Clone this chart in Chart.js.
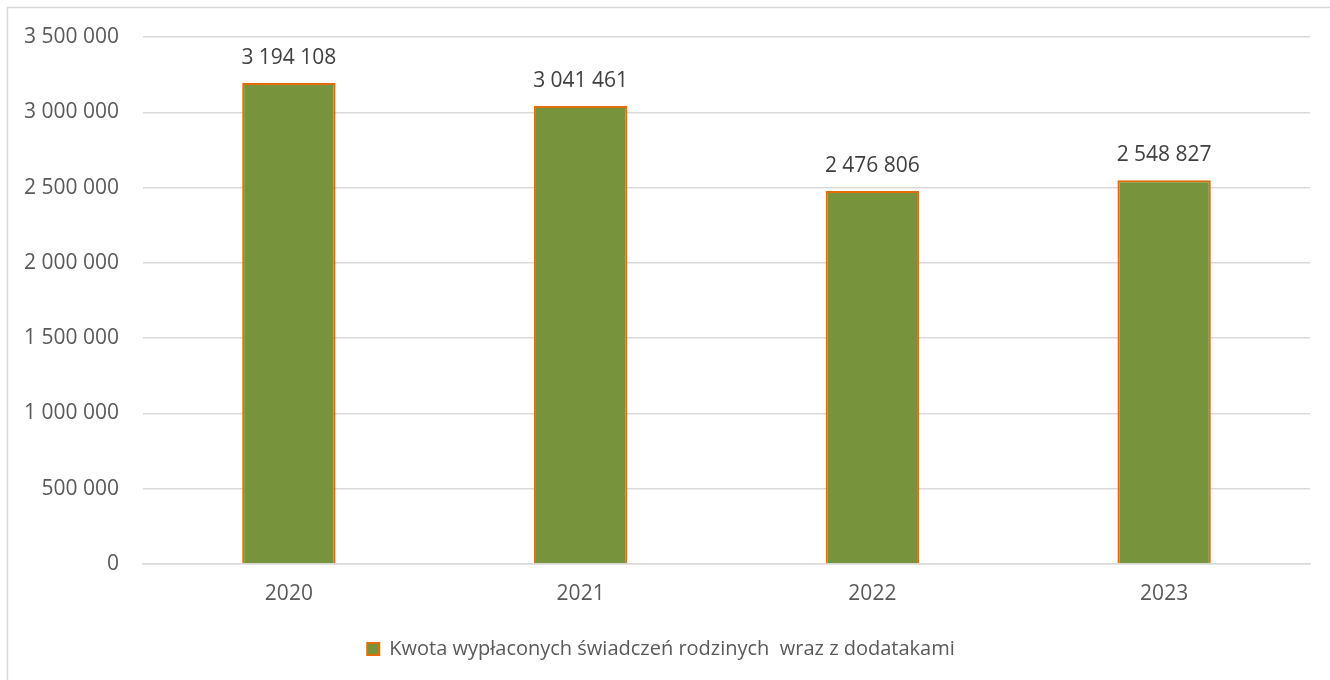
<!DOCTYPE html>
<html>
<head>
<meta charset="utf-8">
<script src="https://cdn.jsdelivr.net/npm/chart.js@4"></script>
<style>
html,body{margin:0;padding:0;background:#fff;}
#wrap{position:absolute;left:0;top:0;width:1330px;height:680px;}
</style>
</head>
<body>
<div id="wrap"><canvas id="c" width="1330" height="680"></canvas></div>
<script>
const categories = ['2020', '2021', '2022', '2023'];
const values = [3194108, 3041461, 2476806, 2548827];
const seriesLabel = 'Kwota wypłaconych świadczeń rodzinych  wraz z dodatakami';
const yTicks = [0, 500000, 1000000, 1500000, 2000000, 2500000, 3000000, 3500000];

const FONT = '"Open Sans", sans-serif';
const fmt = v => String(Math.round(v)).replace(/\B(?=(\d{3})+(?!\d))/g, ' ');

const frame = {
  id: 'frame',
  beforeDraw(chart) {
    const ctx = chart.ctx;
    ctx.save();
    ctx.fillStyle = '#fff';
    ctx.fillRect(0, 0, chart.width, chart.height);
    ctx.strokeStyle = '#d9d9d9';
    ctx.lineWidth = 1.5;
    ctx.strokeRect(7.5, 7.5, 1340, 700);
    ctx.restore();
  },
  afterLayout(chart) {
    if (chart.legend) { chart.legend.left += 6; chart.legend.right += 6; }
  }
};

const labels = {
  id: 'valueLabels',
  afterDatasetsDraw(chart) {
    const ctx = chart.ctx;
    const meta = chart.getDatasetMeta(0);
    ctx.save();
    ctx.font = '21px ' + FONT;
    ctx.fillStyle = '#404040';
    ctx.textAlign = 'center';
    ctx.textBaseline = 'alphabetic';
    meta.data.forEach((bar, i) => {
      ctx.fillText(fmt(values[i]), bar.x, bar.y - 19);
    });
    ctx.restore();
  }
};

new Chart(document.getElementById('c'), {
  type: 'bar',
  data: {
    labels: categories,
    datasets: [{
      label: seriesLabel,
      data: values,
      backgroundColor: '#77933C',
      borderColor: '#E46C0A',
      borderWidth: 2,
      barPercentage: 0.32,
      categoryPercentage: 1
    }]
  },
  options: {
    responsive: false,
    animation: false,
    layout: { padding: { top: 37, right: 20, left: 0, bottom: 11 } },
    plugins: {
      legend: {
        position: 'bottom',
        labels: {
          font: { family: FONT, size: 20 },
          color: '#595959',
          boxWidth: 12,
          boxHeight: 12,
          padding: 10
        }
      },
      tooltip: { enabled: false }
    },
    scales: {
      y: {
        min: 0,
        max: 3500000,
        afterBuildTicks(scale) { scale.ticks = yTicks.map(v => ({ value: v })); },
        afterFit(scale) { scale.width = 143; },
        ticks: {
          font: { family: FONT, size: 21 },
          color: '#595959',
          padding: 24,
          callback: v => fmt(v)
        },
        grid: { color: '#d9d9d9', lineWidth: 1.5, drawTicks: false },
        border: { display: false }
      },
      x: {
        afterFit(scale) { scale.height = 65; },
        ticks: {
          font: { family: FONT, size: 21 },
          color: '#595959',
          padding: 17
        },
        grid: { display: false, drawTicks: false },
        border: { color: '#d9d9d9', width: 1.5 }
      }
    }
  },
  plugins: [frame, labels]
});
</script>
</body>
</html>
